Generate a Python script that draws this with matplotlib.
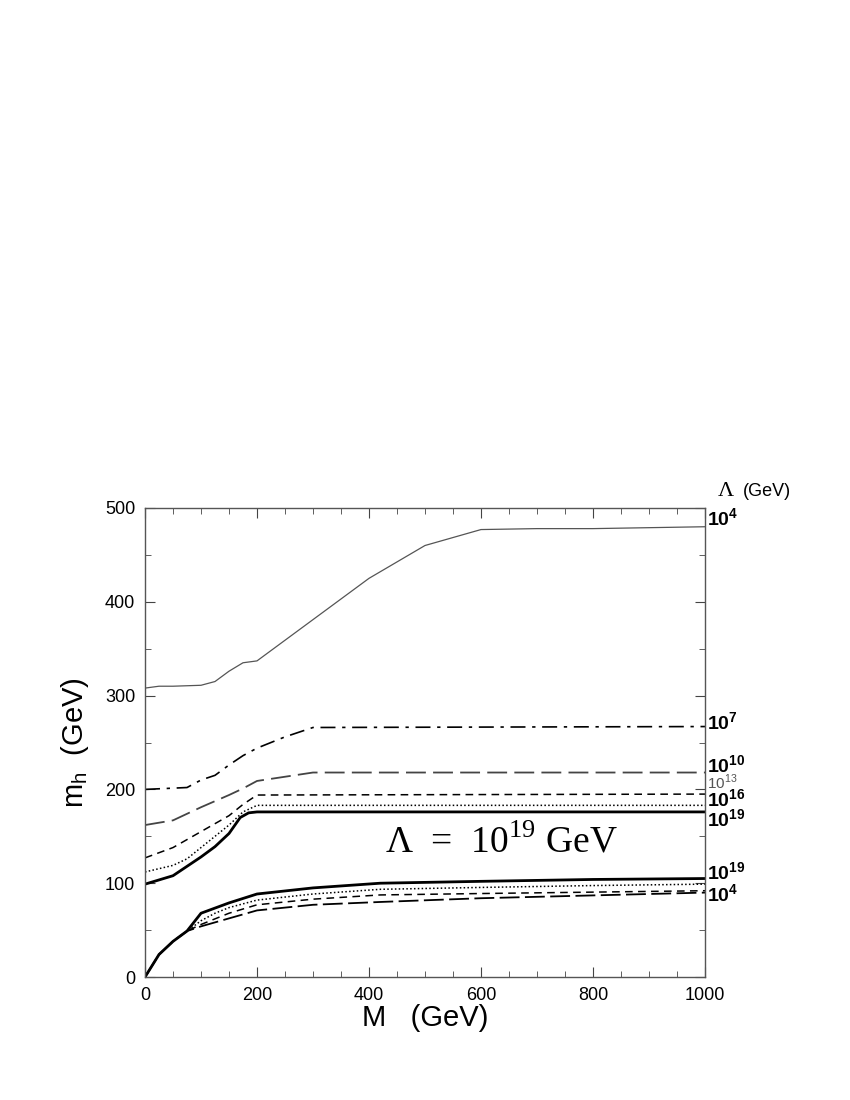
import numpy as np
import matplotlib
matplotlib.use("Agg")
import matplotlib.pyplot as plt

plt.rcParams['font.family'] = ['Liberation Sans', 'DejaVu Sans']
plt.rcParams['mathtext.fontset'] = 'custom'
plt.rcParams['mathtext.rm'] = 'Liberation Serif'
plt.rcParams['mathtext.sf'] = 'Liberation Sans'
plt.rcParams['mathtext.bf'] = 'Liberation Sans:bold'

# ------------------------------
# Upper band: m_h bound for several cutoffs Lambda
# ------------------------------
M_up_4 = [0, 25, 50, 100, 125, 150, 175, 200, 300, 400, 500, 600, 700, 800, 900, 1000]
mh_up_4 = [308, 310, 310, 311, 315, 326, 335, 337, 381, 425, 460, 477, 478, 478, 479, 480]

M_up_7 = [0, 75, 100, 125, 150, 175, 200, 250, 300, 1000]
mh_up_7 = [200, 202, 210, 215, 226, 236, 244, 256, 266, 267]

M_up_10 = [0, 50, 100, 150, 175, 200, 300, 1000]
mh_up_10 = [162, 167, 181, 194, 201, 209, 218, 218]

M_up_13 = [0, 50, 100, 150, 175, 200, 1000]
mh_up_13 = [127, 138, 155, 172, 184, 194, 195]

M_up_16 = [0, 50, 75, 100, 125, 150, 175, 200, 1000]
mh_up_16 = [112, 119, 126, 138, 150, 162, 176, 183, 183]

M_up_19 = [0, 50, 100, 125, 150, 170, 185, 200, 1000]
mh_up_19 = [99, 108, 128, 139, 153, 170, 175, 176, 176]

# ------------------------------
# Lower band
# ------------------------------
M_lo_19 = [0, 25, 50, 75, 100, 150, 200, 300, 420, 600, 800, 1000]
mh_lo_19 = [0, 24, 38, 49, 68, 79, 88.5, 95, 100, 102, 104, 105]

M_lo_16 = [0, 25, 50, 75, 100, 125, 150, 200, 300, 420, 600, 800, 1000]
mh_lo_16 = [0, 24, 38, 49, 60, 68, 74, 82, 88.5, 93.5, 95.5, 97.5, 99]

M_lo_10 = [0, 25, 50, 75, 100, 150, 200, 300, 420, 600, 800, 1000]
mh_lo_10 = [0, 24, 38, 49, 56, 68, 77, 83, 87.5, 89, 90.5, 92]

M_lo_4 = [0, 25, 50, 75, 100, 150, 200, 300, 420, 600, 800, 1000]
mh_lo_4 = [0, 24, 38, 49, 54, 62.5, 71, 77, 80, 84, 87, 90]

# right-hand labels: exponent, y position, bold
label_exp = ['4', '7', '10', '13', '16', '19', '19', '4']
label_y = [488, 271, 225, 207, 189, 168, 111, 88]
label_bold = [True, True, True, False, True, True, True, True]

fig = plt.figure(figsize=(8.5, 11), dpi=100)
ax = fig.add_axes([0.1706, 0.1118, 0.6588, 0.4264])

ax.plot(M_up_4, mh_up_4, color='#555555', lw=0.9)
ax.plot(M_up_7, mh_up_7, color='black', lw=1.2, dashes=(9, 4, 2, 4))
ax.plot(M_up_10, mh_up_10, color='#444444', lw=1.3, dashes=(11, 4))
ax.plot(M_up_13, mh_up_13, color='black', lw=1.1, dashes=(5, 3.5))
ax.plot(M_up_16, mh_up_16, color='black', lw=1.1, dashes=(1, 1.5))
ax.plot(M_up_19, mh_up_19, color='black', lw=2.0)

ax.plot(M_lo_4, mh_lo_4, color='black', lw=1.3, dashes=(11, 3))
ax.plot(M_lo_10, mh_lo_10, color='black', lw=1.1, dashes=(5, 3.5))
ax.plot(M_lo_16, mh_lo_16, color='black', lw=1.1, dashes=(1, 1.5))
ax.plot(M_lo_19, mh_lo_19, color='black', lw=2.0)

ax.set_xlim(0, 1000)
ax.set_ylim(0, 500)
ax.set_xticks(np.arange(0, 1001, 200))
ax.set_xticks(np.arange(0, 1001, 50), minor=True)
ax.set_yticks(np.arange(0, 501, 100))
ax.set_yticks(np.arange(0, 501, 50), minor=True)
ax.tick_params(which='both', direction='in', top=True, right=True,
               labelsize=13, color='#444444', pad=7)
ax.tick_params(which='major', length=7)
ax.tick_params(which='minor', length=4)
for s in ax.spines.values():
    s.set_color('#555555')
    s.set_linewidth(1.0)

ax.set_xlabel('M   (GeV)', fontsize=21, labelpad=0)
ax.set_ylabel(r'm$_{\mathsf{h}}$  (GeV)', fontsize=21, labelpad=10)

for e, y, b in zip(label_exp, label_y, label_bold):
    if b:
        ax.text(1003, y, '10$^{\\mathbf{' + e + '}}$', fontsize=14, fontweight='bold',
                va='center', ha='left', clip_on=False)
    else:
        ax.text(1003, y, '10$^{\\mathsf{' + e + '}}$', fontsize=11, color='#555555',
                va='center', ha='left', clip_on=False)

ax.text(1022, 518, 'Λ', fontsize=16, family='Liberation Serif', va='center', ha='left')
ax.text(1068, 518, '(GeV)', fontsize=13, va='center', ha='left')

ax.text(428, 143, 'Λ  =  10$^{19}$ GeV', fontsize=27, family='Liberation Serif',
        va='center', ha='left')

fig.savefig('out.png', dpi=100)
